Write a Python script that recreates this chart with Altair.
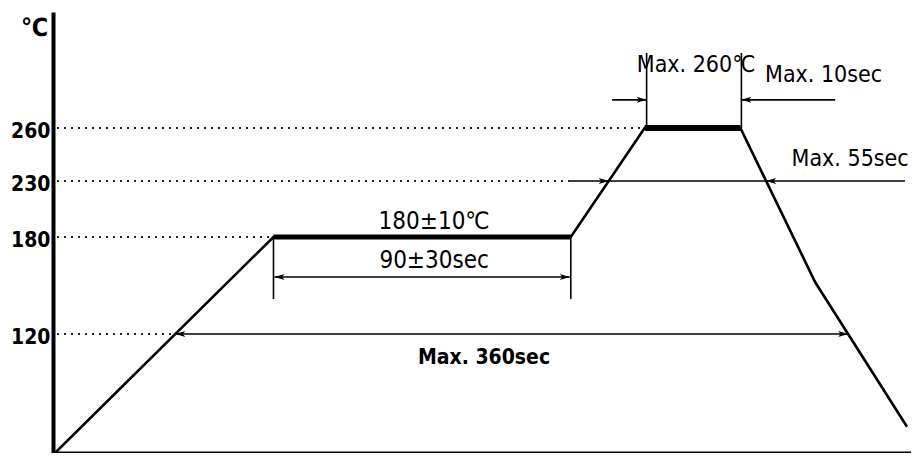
import altair as alt
import pandas as pd

FONT = "DejaVu Sans Condensed, DejaVu Sans, sans-serif"

# --- schematic reflow profile (time units, temperature in deg C) ---
profile_t = [1, 110.5, 259.5, 296.5, 344.5, 382, 428]
profile_temp = [25, 180, 180, 260, 260, 152, 46]

# thick plateau segments (soak at 180, peak at 260)
plateau_t = [110.5, 296.5]
plateau_t2 = [259.5, 344.5]
plateau_temp = [180, 260]

# dotted guide lines from the y axis
guide_temp = [260, 230, 180, 120]
guide_end = [296.5, 259, 110.5, 61.3]

# dimension lines (t, t2, temp, temp2)
dim_t = [259, 61.3, 111, 280.2, 345, 110.5, 259.5, 297.5, 345]
dim_t2 = [427, 398.5, 259, 297.5, 392, 110.5, 259.5, 297.5, 345]
dim_temp = [230, 120, 155.3, 269.7, 269.7, 180, 180, 260, 260]
dim_temp2 = [230, 120, 155.3, 269.7, 269.7, 141.6, 141.6, 285.9, 285.9]

# arrow heads
arrow_t = [278.5, 357.4, 61.3, 398.5, 111, 259, 297.5, 345]
arrow_temp = [230, 230, 120, 120, 155.3, 155.3, 269.7, 269.7]
arrow_dir = ["right", "left", "left", "right", "left", "right", "right", "left"]

# annotation texts
pm_text = ["180±10℃", "90±30sec"]
pm_t = [191, 191]
pm_temp = [193.8, 165.2]
max_text = ["Max. 260℃", "Max. 10sec", "Max. 55sec"]
max_t = [322.3, 386.2, 399.5]
max_temp = [281.6, 278.3, 242.2]
big_text = ["Max. 360sec"]
big_t = [216]
big_temp = [100.8]

y_ticks = [120, 180, 230, 260]

# ---------------------------------------------------------------
xscale = alt.Scale(domain=[0, 430], nice=False, zero=False)
yscale = alt.Scale(domain=[25, 120, 180, 230, 260, 300],
                   range=[441, 322, 225, 169, 116, 0], nice=False, zero=False)
xaxis = alt.Axis(labels=False, ticks=False, tickSize=0, grid=False,
                 domainWidth=4, domainColor="black", title=None)
yaxis = alt.Axis(values=y_ticks, ticks=False, tickSize=0, grid=False,
                 labelPadding=3, labelFontSize=21, labelFont=FONT,
                 labelFontWeight="bold",
                 labelColor="black", labelOffset=3,
                 domainWidth=4, domainColor="black",
                 title="℃", titleAngle=0, titleX=-19, titleY=15,
                 titleAlign="center", titleBaseline="middle",
                 titleFontSize=25, titleFont=FONT, titleFontWeight="bold",
                 titleColor="black")

X = alt.X("t:Q", scale=xscale, axis=xaxis, title=None)
Y = alt.Y("temp:Q", scale=yscale, axis=yaxis, title="℃")

prof_df = pd.DataFrame({"t": profile_t, "temp": profile_temp,
                        "i": list(range(len(profile_t)))})
plat_df = pd.DataFrame({"t": plateau_t, "t2": plateau_t2, "temp": plateau_temp})
guide_df = pd.DataFrame({"t": [2] * len(guide_temp), "t2": guide_end,
                         "temp": guide_temp})
dim_df = pd.DataFrame({"t": dim_t, "t2": dim_t2,
                       "temp": dim_temp, "temp2": dim_temp2})
arr_df = pd.DataFrame({"t": arrow_t, "temp": arrow_temp, "dir": arrow_dir})
pm_df = pd.DataFrame({"t": pm_t, "temp": pm_temp, "label": pm_text})
max_df = pd.DataFrame({"t": max_t, "temp": max_temp, "label": max_text})
big_df = pd.DataFrame({"t": big_t, "temp": big_temp, "label": big_text})

guides = alt.Chart(guide_df).mark_rule(
    color="#222", strokeWidth=2, strokeDash=[2, 5]
).encode(x=X, x2="t2:Q", y=Y)

dims = alt.Chart(dim_df).mark_rule(color="black", strokeWidth=1.6).encode(
    x=X, x2="t2:Q", y=Y, y2="temp2:Q")

profile = alt.Chart(prof_df).mark_line(color="black", strokeWidth=2.6).encode(
    x=X, y=Y, order="i:Q")

plat1 = alt.Chart(plat_df.iloc[[0]]).mark_rule(
    color="black", strokeWidth=5).encode(x=X, x2="t2:Q", y=Y)
plat2 = alt.Chart(plat_df.iloc[[1]]).mark_rule(
    color="black", strokeWidth=6).encode(x=X, x2="t2:Q", y=Y)

right_path = "M0,0L-2,-0.6L-1.5,0L-2,0.6Z"
left_path = "M0,0L2,-0.6L1.5,0L2,0.6Z"
arr_r = alt.Chart(arr_df[arr_df["dir"] == "right"]).mark_point(
    shape=right_path, filled=True, size=100, color="black", opacity=1
).encode(x=X, y=Y)
arr_l = alt.Chart(arr_df[arr_df["dir"] == "left"]).mark_point(
    shape=left_path, filled=True, size=100, color="black", opacity=1
).encode(x=X, y=Y)

pm_notes = alt.Chart(pm_df).mark_text(
    font=FONT, fontSize=24, color="black", align="center", baseline="middle"
).encode(x=X, y=Y, text="label:N")

max_notes = alt.Chart(max_df).mark_text(
    font=FONT, fontSize=23, color="black", align="center", baseline="middle"
).encode(x=X, y=Y, text="label:N")

big = alt.Chart(big_df).mark_text(
    font=FONT, fontSize=21, fontWeight="bold", color="black",
    align="center", baseline="middle"
).encode(x=X, y=Y, text="label:N")

chart = alt.layer(
    guides, dims, profile, plat1, plat2, arr_r, arr_l, pm_notes, max_notes, big
).properties(
    width=858, height=441,
    autosize=alt.AutoSizeParams(type="none"),
    padding={"left": 45, "top": 4, "right": 0, "bottom": 0},
    background="white",
).configure_view(stroke=None)

chart.save("out.html", embed_options={"renderer": "svg", "actions": False})
